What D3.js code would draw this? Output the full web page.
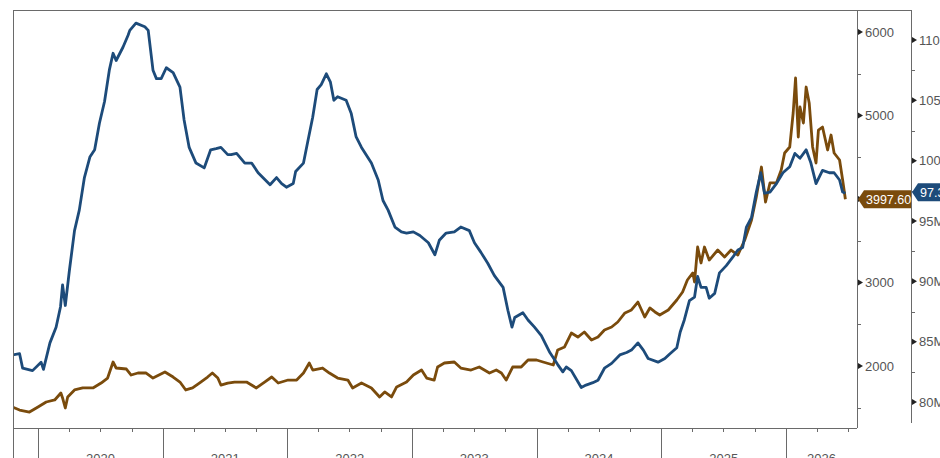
<!DOCTYPE html>
<html><head><meta charset="utf-8">
<script src="https://cdn.jsdelivr.net/npm/d3@7"></script>
<style>body{margin:0;background:#fff;overflow:hidden}svg{display:block;font-family:"Liberation Sans",Arial,sans-serif}</style>
</head><body><svg id="c" width="940" height="458"></svg>
<script>
const blueDates=["2019-10-18","2019-11-08","2019-11-17","2019-12-16","2020-01-10","2020-01-17","2020-02-05","2020-02-23","2020-03-07","2020-03-13","2020-03-21","2020-04-02","2020-04-17","2020-05-01","2020-05-16","2020-06-01","2020-06-15","2020-06-29","2020-07-14","2020-07-28","2020-08-08","2020-08-17","2020-09-06","2020-09-21","2020-09-26","2020-10-14","2020-11-09","2020-11-19","2020-12-03","2020-12-13","2020-12-27","2021-01-11","2021-01-31","2021-02-20","2021-03-04","2021-03-19","2021-04-08","2021-05-02","2021-05-21","2021-06-06","2021-06-20","2021-07-10","2021-07-20","2021-08-05","2021-08-29","2021-09-18","2021-10-07","2021-11-11","2021-11-30","2021-12-15","2021-12-29","2022-01-18","2022-01-25","2022-02-17","2022-03-01","2022-03-16","2022-03-29","2022-04-10","2022-04-25","2022-05-07","2022-05-17","2022-05-28","2022-06-22","2022-07-07","2022-07-21","2022-08-06","2022-09-04","2022-09-24","2022-10-08","2022-10-23","2022-11-12","2022-12-01","2022-12-16","2023-01-05","2023-01-24","2023-02-18","2023-03-09","2023-03-22","2023-04-11","2023-05-05","2023-05-24","2023-06-18","2023-07-03","2023-07-22","2023-08-11","2023-08-30","2023-09-25","2023-10-09","2023-10-21","2023-10-29","2023-11-22","2023-12-07","2023-12-26","2024-01-15","2024-02-09","2024-03-03","2024-03-18","2024-03-28","2024-04-12","2024-05-11","2024-05-25","2024-06-14","2024-06-29","2024-07-18","2024-08-08","2024-09-01","2024-09-21","2024-10-05","2024-10-24","2024-11-09","2024-11-23","2024-12-22","2025-01-11","2025-01-26","2025-02-15","2025-02-25","2025-03-09","2025-03-24","2025-04-08","2025-04-17","2025-04-27","2025-05-12","2025-05-21","2025-06-06","2025-06-20","2025-07-10","2025-07-29","2025-08-13","2025-08-27","2025-09-07","2025-09-22","2025-10-06","2025-10-19","2025-10-30","2025-11-15","2025-12-04","2025-12-23","2026-01-12","2026-01-27","2026-02-11","2026-03-01","2026-03-15","2026-03-30","2026-04-18","2026-05-08","2026-05-22","2026-06-07","2026-06-16","2026-06-24"];
const blueValues=[83.9,84.0,82.8,82.6,83.3,82.7,84.9,86.2,87.9,89.7,88.0,90.9,94.2,95.9,98.6,100.3,100.9,103.1,104.9,107.5,108.9,108.3,109.4,110.4,110.8,111.4,111.1,110.8,107.5,106.8,106.8,107.7,107.3,106.1,103.4,101.1,99.8,99.4,100.9,101.0,101.1,100.5,100.5,100.6,99.8,99.8,99.0,98.0,98.6,98.1,97.8,98.1,99.1,99.8,101.5,103.6,105.9,106.3,107.2,106.5,105.0,105.3,105.0,103.9,102.0,101.1,99.8,98.4,96.7,95.9,94.5,94.1,94.0,94.1,93.8,93.2,92.2,93.4,94.0,94.1,94.5,94.2,93.2,92.4,91.5,90.5,89.5,87.6,86.2,87.0,87.4,86.8,86.2,85.5,84.1,83.1,82.5,82.9,82.6,81.2,81.4,81.6,81.8,82.8,83.2,83.9,84.1,84.3,84.9,84.3,83.6,83.3,83.6,84.0,84.5,85.8,86.8,88.4,88.7,90.4,89.5,89.5,88.6,89.0,90.7,91.3,92.0,92.6,92.8,94.5,95.3,97.4,99.0,97.3,97.4,98.1,99.0,99.5,100.6,100.2,100.9,99.8,98.1,99.2,99.0,99.0,98.4,97.4,97.3];
const goldDates=["2019-10-18","2019-11-08","2019-12-07","2020-01-01","2020-01-25","2020-02-19","2020-03-08","2020-03-13","2020-03-21","2020-03-28","2020-04-17","2020-05-11","2020-06-10","2020-07-04","2020-07-23","2020-08-08","2020-08-17","2020-09-16","2020-09-30","2020-10-20","2020-11-13","2020-12-03","2021-01-07","2021-01-31","2021-02-20","2021-03-09","2021-03-29","2021-04-22","2021-05-12","2021-05-26","2021-06-11","2021-06-20","2021-07-10","2021-07-30","2021-09-03","2021-10-02","2021-10-26","2021-11-16","2021-12-05","2022-01-03","2022-01-28","2022-02-17","2022-03-06","2022-03-16","2022-04-14","2022-05-04","2022-05-28","2022-06-27","2022-07-11","2022-08-06","2022-09-04","2022-09-28","2022-10-13","2022-11-02","2022-11-17","2022-12-16","2023-01-05","2023-01-29","2023-02-13","2023-03-07","2023-03-17","2023-04-06","2023-05-05","2023-05-24","2023-06-23","2023-07-17","2023-08-16","2023-09-05","2023-09-20","2023-10-04","2023-10-23","2023-11-17","2023-12-07","2024-01-01","2024-01-20","2024-02-19","2024-03-03","2024-03-23","2024-04-12","2024-05-01","2024-05-20","2024-06-10","2024-06-29","2024-07-18","2024-08-08","2024-08-26","2024-09-16","2024-10-05","2024-10-24","2024-11-13","2024-11-28","2024-12-13","2024-12-27","2025-01-21","2025-02-15","2025-03-04","2025-03-18","2025-04-03","2025-04-08","2025-04-17","2025-04-27","2025-05-07","2025-05-21","2025-06-15","2025-07-05","2025-07-24","2025-08-13","2025-09-02","2025-09-12","2025-09-22","2025-10-06","2025-10-21","2025-11-02","2025-11-15","2025-12-04","2025-12-18","2025-12-28","2026-01-12","2026-01-22","2026-01-29","2026-02-06","2026-02-11","2026-02-21","2026-03-01","2026-03-10","2026-03-20","2026-03-30","2026-04-06","2026-04-18","2026-05-03","2026-05-13","2026-05-22","2026-06-07","2026-06-16","2026-06-24"];
const goldValues=[1509,1473,1449,1509,1569,1593,1677,1617,1497,1629,1713,1737,1737,1796,1856,2048,1976,1964,1892,1916,1916,1856,1928,1868,1808,1713,1737,1808,1868,1916,1856,1772,1796,1808,1808,1737,1808,1868,1796,1832,1832,1916,2036,1952,1976,1916,1856,1832,1737,1796,1737,1629,1689,1629,1749,1808,1892,1952,1856,1832,1988,2036,2048,1976,1952,1988,1916,1952,1916,1832,1988,1988,2072,2072,2048,2012,2192,2228,2395,2347,2407,2311,2347,2431,2467,2527,2635,2671,2766,2587,2695,2647,2611,2671,2790,2886,3030,3114,3006,3425,3234,3425,3269,3389,3305,3389,3329,3509,3629,3749,4024,4383,3964,4192,4192,4347,4551,4623,5030,5449,4742,5102,4910,5341,5150,4623,4431,4826,4862,4587,4766,4551,4467,4228,3997.6];
const goldTicks=[2000,3000,4000,5000,6000];
const goldTickLabels=["2000","3000","","5000","6000"];
const goldMinor=[1500,2500,3500,4500,5500];
const blueTicks=[80,85,90,95,100,105,110];
const blueTickLabels=["80M","85M","90M","95M","100M","105M","110M"];
const blueMinor=[82.5,87.5,92.5,97.5,102.5,107.5];
const yearLabels=["2020","2021","2022","2023","2024","2025","2026"];
const goldLastLabel="3997.60";
const blueLastLabel="97.3M";

const L=13,T=10,R=857,B=428,R2=911;
const BLUE="#1d4b7a",GOLD="#7a4b0c",AX="#6a6a6a",TXT="#555";
const parse=d3.timeParse("%Y-%m-%d");
const x=d3.scaleTime().domain([new Date(2020,0,1),new Date(2026,0,1)]).range([38,786]);
const yG=d3.scaleLinear().domain([2000,6000]).range([366,32]);
const yB=d3.scaleLinear().domain([80,110]).range([402,40]);

const svg=d3.select("#c");
svg.append("defs").append("clipPath").attr("id","pc").append("rect")
  .attr("x",L).attr("y",T).attr("width",R-L).attr("height",B-T);

const gold=goldDates.map((d,i)=>({d:parse(d),v:goldValues[i]}));
const blue=blueDates.map((d,i)=>({d:parse(d),v:blueValues[i]}));

const lines=svg.append("g").attr("clip-path","url(#pc)");
lines.append("path").datum(gold).attr("fill","none").attr("stroke",GOLD).attr("stroke-width",2.8)
  .attr("stroke-linejoin","round").attr("d",d3.line().x(p=>x(p.d)).y(p=>yG(p.v)));
lines.append("path").datum(blue).attr("fill","none").attr("stroke",BLUE).attr("stroke-width",2.8)
  .attr("stroke-linejoin","round").attr("d",d3.line().x(p=>x(p.d)).y(p=>yB(p.v)));

// frame
const fr=svg.append("g").attr("stroke",AX).attr("stroke-width",1).attr("shape-rendering","crispEdges");
fr.append("line").attr("x1",L).attr("x2",R2).attr("y1",T+0.5).attr("y2",T+0.5);
fr.append("line").attr("x1",L+0.5).attr("x2",L+0.5).attr("y1",T).attr("y2",458);
fr.append("line").attr("x1",L).attr("x2",R).attr("y1",B+0.5).attr("y2",B+0.5);
fr.append("line").attr("x1",R+0.5).attr("x2",R+0.5).attr("y1",T).attr("y2",B);
fr.append("line").attr("x1",R2+0.5).attr("x2",R2+0.5).attr("y1",T).attr("y2",423);

// x axis
const dStart=x.invert(L),dEnd=x.invert(R);
d3.timeMonth.every(3).range(dStart,dEnd).forEach(d=>{
  const px=Math.round(x(d))+0.5;
  if(d.getMonth()===0) fr.append("line").attr("x1",px).attr("x2",px).attr("y1",B).attr("y2",458);
  else fr.append("line").attr("x1",px).attr("x2",px).attr("y1",B).attr("y2",B+4);
});
yearLabels.forEach(y=>{
  const a=new Date(+y,0,1),b=new Date(+y+1,0,1);
  const xa=x(a<dStart?dStart:a),xb=x(b>dEnd?dEnd:b);
  svg.append("text").attr("x",(xa+xb)/2).attr("y",463).attr("text-anchor","middle")
    .attr("font-size",13).attr("fill",TXT).text(y);
});

// right axes
function axis(ax,scale,ticks,labels,minor){
  ticks.forEach((v,i)=>{
    const py=scale(v);
    svg.append("path").attr("d",`M${ax+1},${py-3}L${ax+6},${py}L${ax+1},${py+3}Z`).attr("fill","#222");
    if(labels[i]) svg.append("text").attr("x",ax+8).attr("y",py+4.5).attr("font-size",13).attr("fill",TXT).text(labels[i]);
  });
  minor.forEach(v=>{
    const py=Math.round(scale(v))+0.5;
    fr.append("line").attr("x1",ax).attr("x2",ax+4).attr("y1",py).attr("y2",py);
  });
}
axis(R,yG,goldTicks,goldTickLabels,goldMinor);
axis(R2,yB,blueTicks,blueTickLabels,blueMinor);

// last value tags
function tag(ax,py,w,fill,label){
  svg.append("path").attr("d",`M${ax+1},${py}L${ax+7},${py-9}L${ax+w},${py-9}L${ax+w},${py+9}L${ax+7},${py+9}Z`).attr("fill",fill);
  svg.append("text").attr("x",ax+9).attr("y",py+4.5).attr("font-size",12.5).attr("fill","#fff").text(label);
}
tag(R,yG(goldValues[goldValues.length-1]),54,GOLD,goldLastLabel);
tag(R2,yB(blueValues[blueValues.length-1])-1,40,BLUE,blueLastLabel);
</script></body></html>
